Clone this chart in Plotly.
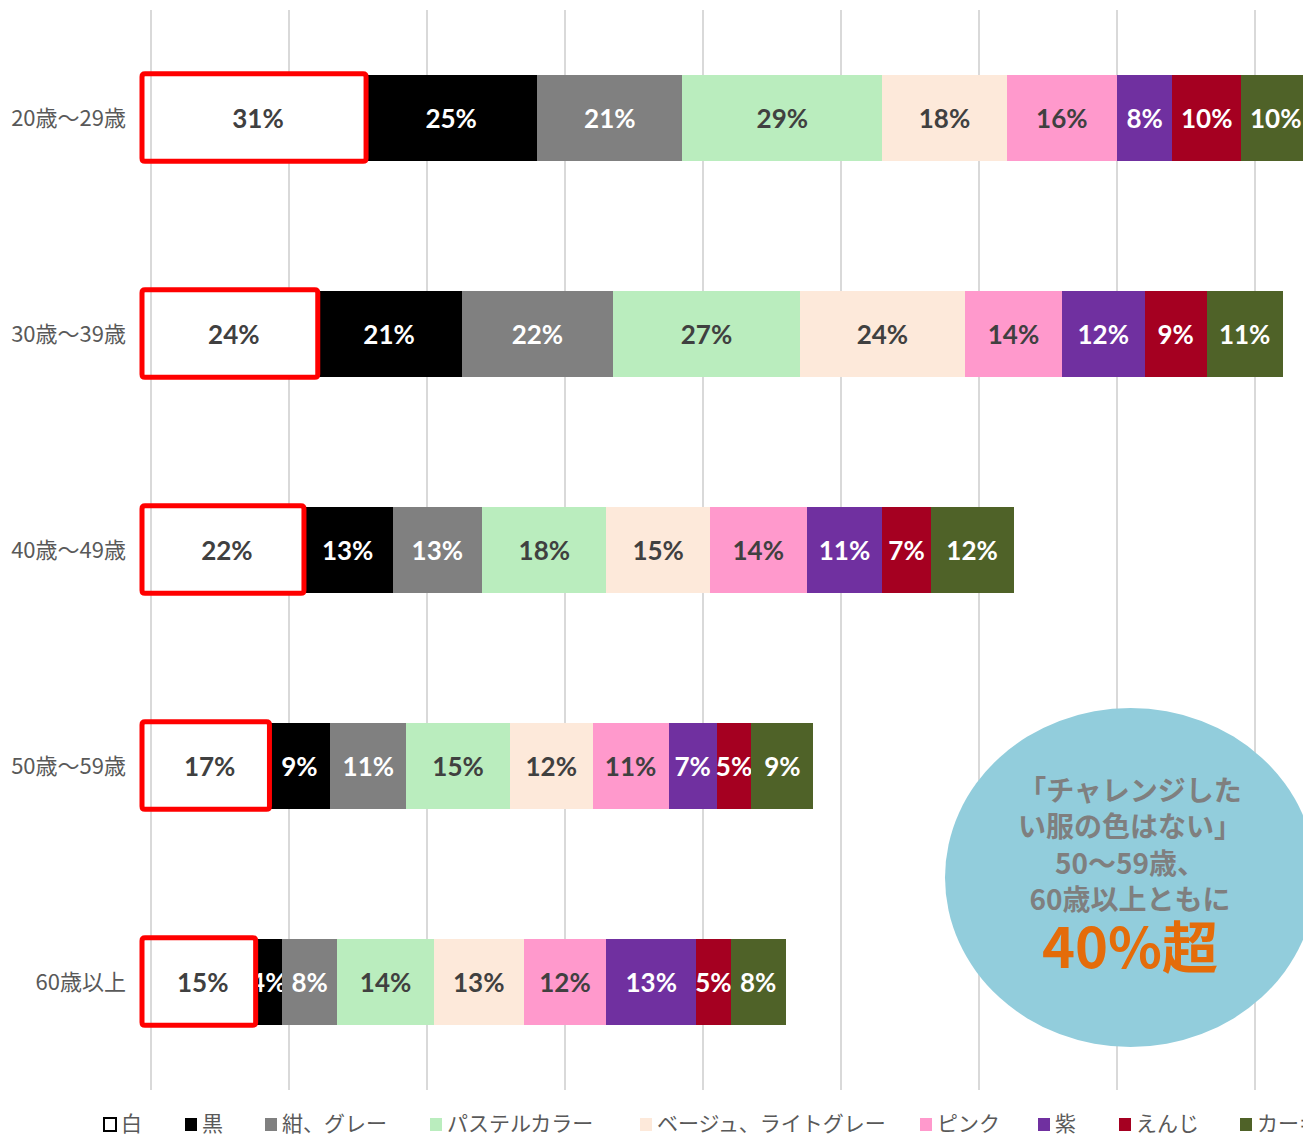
import plotly.graph_objects as go

ages = ["20歳～29歳", "30歳～39歳", "40歳～49歳", "50歳～59歳", "60歳以上"]
series_names = ["白", "黒", "紺、グレー", "パステルカラー", "ベージュ、ライトグレー",
                "ピンク", "紫", "えんじ", "カーキ"]
white = [31, 24, 22, 17, 15]
black = [25, 21, 13, 9, 4]
gray = [21, 22, 13, 11, 8]
pastel = [29, 27, 18, 15, 14]
beige = [18, 24, 15, 12, 13]
pink = [16, 14, 14, 11, 12]
purple = [8, 12, 11, 7, 13]
enji = [10, 9, 7, 5, 5]
khaki = [10, 11, 12, 9, 8]
series_values = [white, black, gray, pastel, beige, pink, purple, enji, khaki]

colors = ["#FFFFFF", "#000000", "#808080", "#BAEDBE", "#FDE9DA",
          "#FF99CC", "#7030A0", "#A50021", "#4F6228"]
text_colors = ["#404040", "#FFFFFF", "#FFFFFF", "#404040", "#404040",
               "#404040", "#FFFFFF", "#FFFFFF", "#FFFFFF"]

callout_lines = ["「チャレンジした", "い服の色はない」", "50～59歳、", "60歳以上ともに"]
callout_big = "40%超"

fig = go.Figure()
for name, vals, c, tc in zip(series_names, series_values, colors, text_colors):
    fig.add_trace(go.Bar(
        y=ages, x=vals, name=name, orientation="h",
        marker=dict(color=c, line=dict(width=0)),
        width=0.4,
        texttemplate="%{x}%", textposition="inside", insidetextanchor="middle",
        textangle=0, constraintext="none",
        textfont=dict(family="Lato", size=26, color=tc, weight="bold"),
        showlegend=False, hoverinfo="skip",
    ))

# page body has an 8px margin; helpers below take page pixels
X_MAX = 1160 / 6.9  # plot area 1160px wide, 6.9px per %


def px2x(px):
    return (px - 151) / 6.9


def py2y(py):
    return (py - 10) / 216 - 0.5


def pxp(px):
    return (px - 151) / 1160


def pyp(py):
    return (1090 - py) / 1080


shapes = []
# axis line at 0 drawn above the bars
shapes.append(dict(type="line", xref="paper", yref="paper", x0=0, x1=0, y0=0, y1=1,
                   line=dict(color="#D9D9D9", width=2), layer="above"))
# red rounded boxes around white segments
rx, ry = 3 / 1160, 3 / 216
for i, v in enumerate(white):
    x0, x1 = pxp(142), v / X_MAX + 0.001
    y0, y1 = i - 0.205, i + 0.2
    path = (f"M {x0+rx},{y0} L {x1-rx},{y0} Q {x1},{y0} {x1},{y0+ry} "
            f"L {x1},{y1-ry} Q {x1},{y1} {x1-rx},{y1} L {x0+rx},{y1} "
            f"Q {x0},{y1} {x0},{y1-ry} L {x0},{y0+ry} Q {x0},{y0} {x0+rx},{y0} Z")
    shapes.append(dict(type="path", xref="paper", yref="y", path=path,
                       line=dict(color="#FF0000", width=5), layer="above"))

# callout circle
shapes.append(dict(type="circle", xref="x", yref="y",
                   x0=px2x(945), x1=px2x(1316), y0=py2y(708), y1=py2y(1047),
                   fillcolor="#92CDDC", line=dict(width=0), layer="above"))

annotations = []
annotations.append(dict(x=px2x(1130), y=py2y(843), xref="x", yref="y",
                        text="<br>".join(callout_lines), align="center",
                        showarrow=False, xanchor="center", yanchor="middle",
                        font=dict(family="Noto Sans CJK JP", size=28, color="#7F7F7F",
                                  weight="bold")))
annotations.append(dict(x=px2x(1130), y=py2y(943), xref="x", yref="y", text=callout_big,
                        showarrow=False, xanchor="center", yanchor="middle",
                        font=dict(family="Noto Sans CJK JP", size=56, color="#E46C0A",
                                  weight="bold")))

# custom legend
legend_px = [104, 185, 265, 430, 640, 920, 1038, 1119, 1240]
for name, c, lx in zip(series_names, colors, legend_px):
    shapes.append(dict(type="rect", xref="paper", yref="paper",
                       x0=pxp(lx), x1=pxp(lx + 12), y0=pyp(1118), y1=pyp(1131),
                       fillcolor=c,
                       line=dict(color="#000000" if c == "#FFFFFF" else c,
                                 width=2 if c == "#FFFFFF" else 0)))
    annotations.append(dict(x=pxp(lx + 15), y=pyp(1122), xref="paper", yref="paper",
                            text=name, showarrow=False, xanchor="left", yanchor="middle",
                            font=dict(family="Noto Sans CJK JP", size=21, color="#595959")))

fig.update_layout(
    width=1303, height=1128,
    barmode="stack",
    plot_bgcolor="#FFFFFF", paper_bgcolor="#FFFFFF",
    margin=dict(l=143, r=0, t=2, b=46),
    uniformtext=dict(minsize=26, mode="show"),
    shapes=shapes, annotations=annotations,
    showlegend=False,
    xaxis=dict(range=[0, X_MAX], dtick=20, tick0=0, showticklabels=False,
               showgrid=True, gridcolor="#D9D9D9", gridwidth=2,
               zeroline=False, fixedrange=True),
    yaxis=dict(categoryorder="array", categoryarray=ages, range=[4.5, -0.5],
               showgrid=False, zeroline=False, ticks="", ticklabelstandoff=24,
               tickfont=dict(family="Noto Sans CJK JP", size=22, color="#595959")),
)

fig.write_html("out.html")
